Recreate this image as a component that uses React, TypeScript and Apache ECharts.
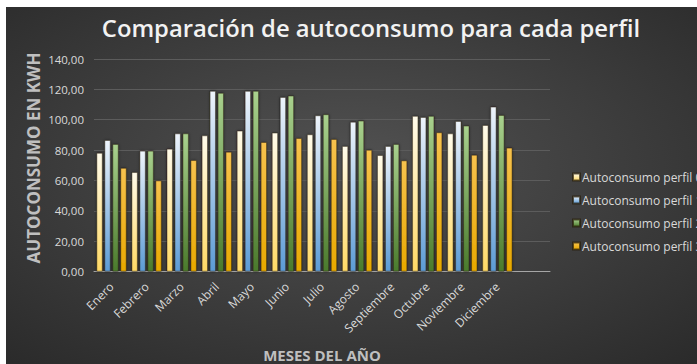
import React, { useEffect, useRef } from "react";
import * as echarts from "echarts";

const months = ["Enero", "Febrero", "Marzo", "Abril", "Mayo", "Junio", "Julio", "Agosto", "Septiembre", "Octubre", "Noviembre", "Diciembre", ""];
const perfil0 = [78.1, 65.4, 80.8, 89.6, 92.7, 91.4, 90.3, 82.6, 76.6, 102.4, 90.9, 96.4, null];
const perfil1 = [86.5, 79.5, 90.9, 118.9, 118.9, 114.9, 102.8, 98.6, 82.6, 101.7, 99.1, 108.5, null];
const perfil2 = [83.9, 79.5, 90.9, 117.6, 118.9, 115.8, 103.5, 99.3, 83.9, 102.4, 96.0, 103.0, null];
const perfil3 = [68.2, 59.9, 73.3, 78.8, 85.2, 87.8, 87.2, 80.1, 73.1, 91.6, 76.8, 81.5, null];
const seriesNames = ["Autoconsumo perfil 0", "Autoconsumo perfil 1", "Autoconsumo perfil 2", "Autoconsumo perfil 3"];
const yTicks = { min: 0, max: 140, interval: 20 };

const FONT = "'Open Sans', 'Noto Sans', sans-serif";

function grad(top: string, bottom: string) {
  return new echarts.graphic.LinearGradient(0, 0, 0, 1, [
    { offset: 0, color: top },
    { offset: 1, color: bottom },
  ]);
}

export default function App() {
  const ref = useRef<HTMLDivElement>(null);
  useEffect(() => {
    if (!ref.current) return;
    const chart = echarts.init(ref.current, undefined, { renderer: "svg" });
    const colors = [
      grad("#fffbea", "#ffd966"),
      grad("#eef4fb", "#5b9bd5"),
      grad("#a9d18e", "#4a7a2c"),
      grad("#f7c24e", "#e8a900"),
    ];
    const datas = [perfil0, perfil1, perfil2, perfil3];
    chart.setOption({
      animation: false,
      backgroundColor: {
        type: "radial",
        x: 0.5,
        y: 0.45,
        r: 0.75,
        colorStops: [
          { offset: 0, color: "#525252" },
          { offset: 1, color: "#2a2a2a" },
        ],
      },
      textStyle: { fontFamily: FONT },
      grid: { left: 88, right: 147, top: 52, bottom: 92.5 },
      legend: {
        orient: "vertical",
        left: 561,
        top: 158,
        itemWidth: 7,
        itemHeight: 7,
        itemGap: 9,
        icon: "rect",
        textStyle: { color: "#d9d9d9", fontSize: 12, lineHeight: 14, fontFamily: FONT, padding: [0, 0, 0, -3] },
        data: seriesNames,
      },
      graphic: [
        {
          type: "text",
          x: 365,
          y: 21,
          style: {
            text: "Comparación de autoconsumo para cada perfil",
            fill: "#f2f2f2",
            font: `600 23.8px ${FONT}`,
            textAlign: "center",
            textVerticalAlign: "middle",
          },
        },
        {
          type: "text",
          x: 27,
          y: 151,
          rotation: Math.PI / 2,
          style: {
            text: "AUTOCONSUMO EN KWH",
            fill: "#bfbfbf",
            font: `bold 17px ${FONT}`,
            textAlign: "center",
            textVerticalAlign: "middle",
          },
        },
        {
          type: "text",
          x: 316,
          y: 348,
          style: {
            text: "MESES DEL AÑO",
            fill: "#bfbfbf",
            font: `bold 15px ${FONT}`,
            textAlign: "center",
            textVerticalAlign: "middle",
          },
        },
      ],
      xAxis: {
        type: "category",
        data: months,
        axisLine: { lineStyle: { color: "#a6a6a6", width: 1 } },
        axisTick: { show: false },
        axisLabel: {
          rotate: 45,
          interval: 0,
          color: "#d9d9d9",
          fontSize: 12,
          fontFamily: FONT,
          margin: 13,
        },
      },
      yAxis: {
        type: "value",
        min: yTicks.min,
        max: yTicks.max,
        interval: yTicks.interval,
        axisLine: { show: false },
        axisTick: { show: false },
        splitLine: { lineStyle: { color: "#5c5c5c", width: 1 } },
        axisLabel: {
          color: "#d9d9d9",
          fontSize: 11.5,
          fontFamily: FONT,
          margin: 10,
          formatter: (v: number) => v.toFixed(2).replace(".", ","),
        },
      },
      series: datas.map((d, i) => ({
        name: seriesNames[i],
        type: "bar",
        data: d,
        barWidth: 6,
        barGap: "33%",
        itemStyle: {
          color: colors[i],
          borderColor: "rgba(40,30,10,0.7)",
          borderWidth: 0.6,
          shadowColor: "rgba(0,0,0,0.5)",
          shadowBlur: 3,
        },
      })),
    });
    return () => chart.dispose();
  }, []);
  return (
    <div
      ref={ref}
      style={{ position: "absolute", left: 6, top: 7, width: 691, height: 357 }}
    />
  );
}
